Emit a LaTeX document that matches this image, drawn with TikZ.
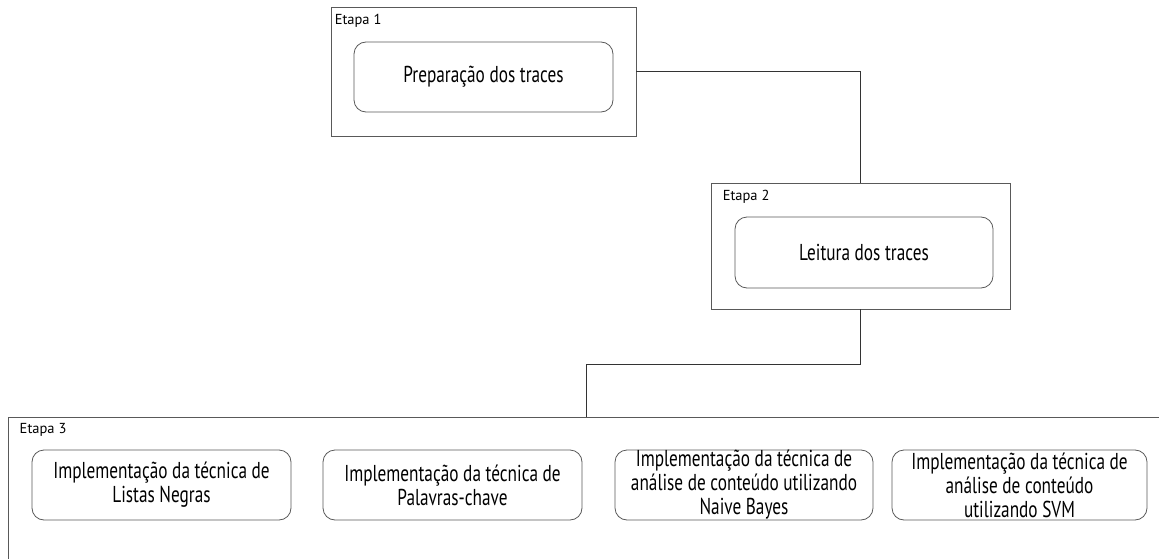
\documentclass[tikz,border=0pt]{standalone}
\usepackage{fontspec}
\setmainfont{PT Sans}[FakeStretch=0.75]
\newfontfamily\tagfont{PT Sans}
\usetikzlibrary{positioning}

\begin{document}
\begin{tikzpicture}
		[x=1pt, y=-1pt,
		 stage/.style={draw=black!65, line width=0.9pt, inner sep=0pt},
		 task/.style={draw=black!65, line width=0.8pt, rounded corners=12pt, align=center, inner sep=0pt, font=\fontsize{23}{24}\selectfont},
		 tag/.style={anchor=north west, inner sep=0pt, font=\tagfont\fontsize{14.5}{16}\selectfont},
		 link/.style={draw=black!80, line width=0.8pt}]
		\useasboundingbox (0,0) rectangle (1159,559);
		\clip (0,0) rectangle (1159,559);

		% etapas
		\node[stage, minimum width=305pt, minimum height=129pt] (e1) at (483.5,71.5) {};
		\node[stage, minimum width=299pt, minimum height=126pt] (e2) at (860.5,246) {};
		\node[stage, minimum width=1156pt, minimum height=170pt] (e3) at (586,502.5) {};
		\node[tag] (t1) at ([xshift=4pt, yshift=-7pt]e1.north west) {Etapa 1};
		\node[tag] (t2) at ([xshift=12pt, yshift=-7pt]e2.north west) {Etapa 2};
		\node[tag] (t3) at ([xshift=12pt, yshift=-6pt]e3.north west) {Etapa 3};

		% tarefas
		\node[task, minimum width=259pt, minimum height=70pt] (prep) at (483.5,77) {Preparação dos traces};
		\node[task, minimum width=258pt, minimum height=71pt] (leit) at (864,252.5) {Leitura dos traces};
		\node[task, minimum width=259pt, minimum height=70pt] (ln) at (161.5,485) {Implementação da técnica de\\Listas Negras};
		\node[task, minimum width=259pt, minimum height=70pt] (pc) at (452.5,485) {Implementação da técnica de\\Palavras-chave};
		\node[task, minimum width=258pt, minimum height=70pt] (nb) at (744,485) {Implementação da técnica de\\análise de conteúdo utilizando\\Naive Bayes};
		\node[task, minimum width=255pt, minimum height=70pt] (svm) at (1019.5,485) {Implementação da técnica de\\análise de conteúdo\\utilizando SVM};

		\draw[link] (e1.east) -| (e2.north);
		\draw[link] (e2.south) -- ++(0,55) -| (e3.north);
	\end{tikzpicture}
\end{document}
